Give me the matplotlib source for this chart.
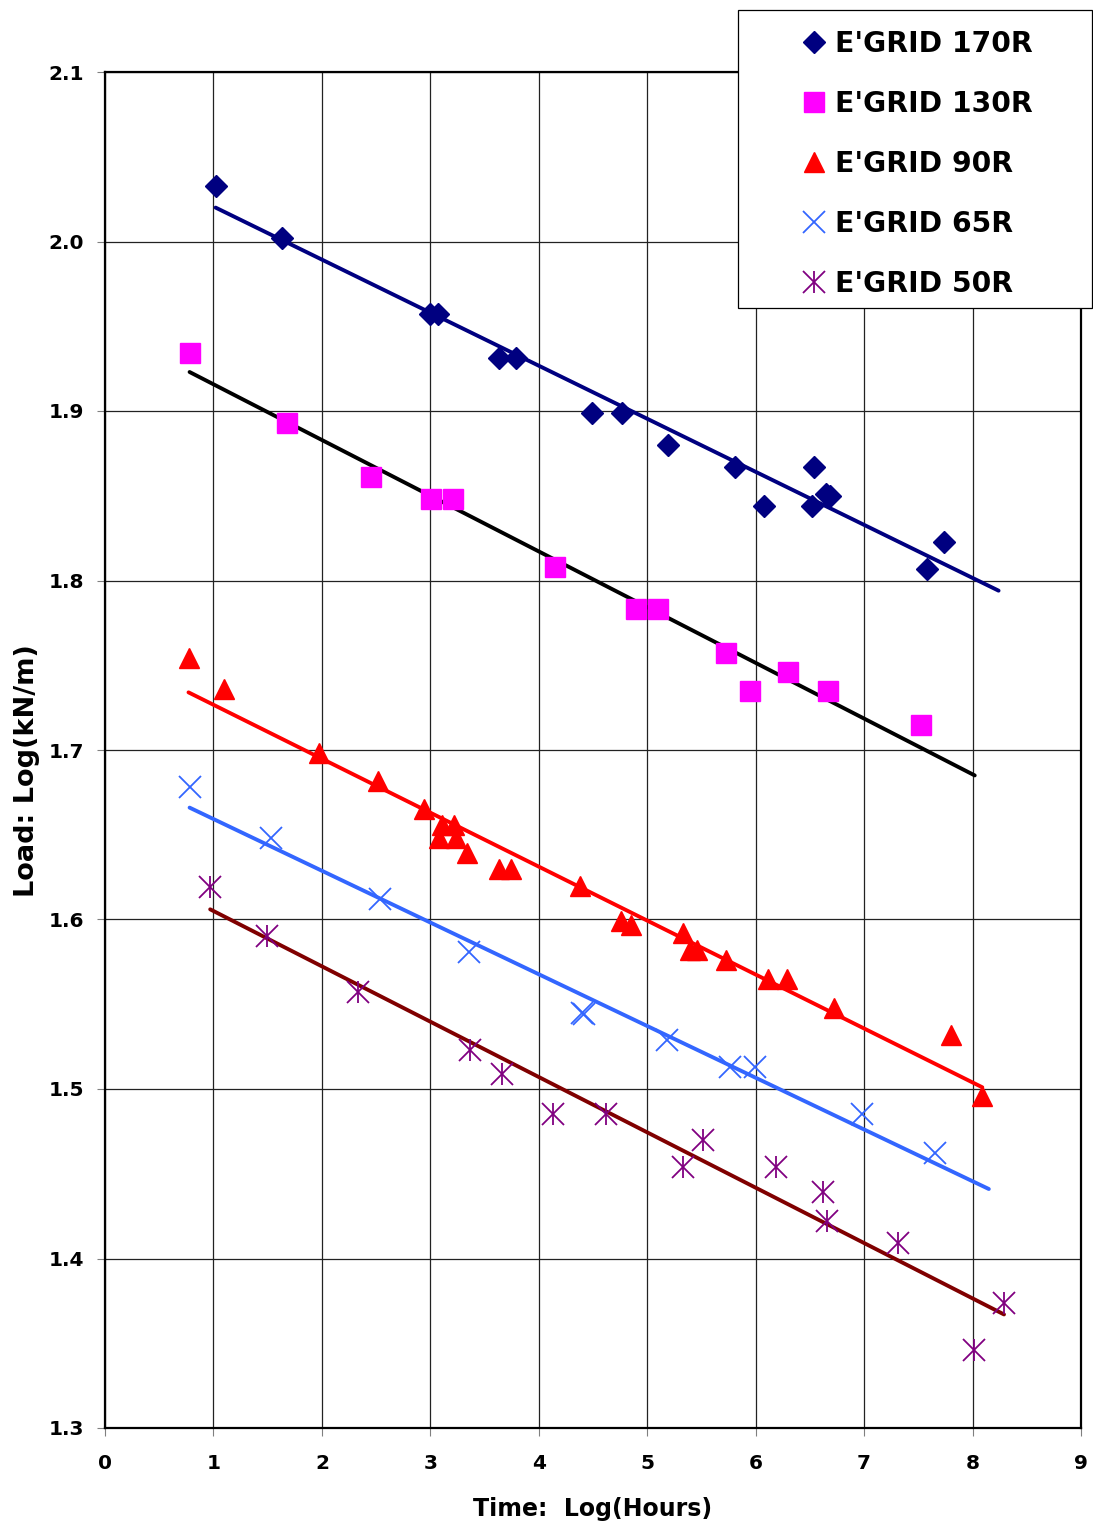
import numpy as np
import matplotlib.pyplot as plt
from matplotlib.patches import Rectangle
from matplotlib.lines import Line2D

plt.rcParams['font.family'] = ['DejaVu Sans']
plt.rcParams['font.weight'] = 'bold'

# Datos (log(horas), log(kN/m))
x170 = [1.02, 1.63, 3.00, 3.07, 3.63, 3.79, 4.49, 4.77, 5.19, 5.81, 6.08,
        6.54, 6.52, 6.65, 6.69, 7.58, 7.74]
y170 = [2.033, 2.002, 1.957, 1.957, 1.931, 1.931, 1.899, 1.899, 1.880, 1.867,
        1.844, 1.867, 1.844, 1.851, 1.850, 1.807, 1.823]

x130 = [0.78, 1.68, 2.45, 3.01, 3.21, 4.15, 4.90, 5.10, 5.73, 5.95, 6.30,
        6.67, 7.52]
y130 = [1.934, 1.893, 1.861, 1.848, 1.848, 1.808, 1.783, 1.783, 1.757, 1.735,
        1.746, 1.735, 1.715]

x90 = [0.77, 1.10, 1.97, 2.52, 2.94, 3.11, 3.22, 3.08, 3.24, 3.34, 3.63,
       3.74, 4.38, 4.76, 4.85, 5.33, 5.39, 5.46, 5.73, 6.11, 6.29, 6.72,
       7.80, 8.09]
y90 = [1.754, 1.736, 1.698, 1.682, 1.665, 1.656, 1.656, 1.648, 1.648, 1.639,
       1.630, 1.630, 1.620, 1.599, 1.597, 1.592, 1.582, 1.582, 1.576, 1.565,
       1.565, 1.548, 1.532, 1.496]

x65 = [0.78, 1.53, 2.54, 3.36, 4.40, 4.42, 5.18, 5.76, 5.99, 6.98, 7.65]
y65 = [1.678, 1.648, 1.612, 1.581, 1.545, 1.544, 1.529, 1.513, 1.513, 1.485,
       1.462]

x50 = [0.97, 1.49, 2.33, 3.37, 3.66, 4.13, 4.62, 5.33, 5.51, 6.19, 6.62,
       6.66, 7.31, 8.01, 8.29]
y50 = [1.619, 1.590, 1.557, 1.523, 1.509, 1.485, 1.485, 1.454, 1.470, 1.454,
       1.439, 1.422, 1.409, 1.346, 1.374]

# Líneas de tendencia (extremos)
lx170, ly170 = [1.02, 8.24], [2.020, 1.794]
lx130, ly130 = [0.78, 8.02], [1.923, 1.685]
lx90, ly90 = [0.77, 8.09], [1.734, 1.501]
lx65, ly65 = [0.78, 8.15], [1.666, 1.441]
lx50, ly50 = [0.97, 8.29], [1.606, 1.367]

etiquetas = ["E'GRID 170R", "E'GRID 130R", "E'GRID 90R", "E'GRID 65R", "E'GRID 50R"]

W, H = 1093, 1526
fig = plt.figure(figsize=(W / 100, H / 100), dpi=100)
ax = fig.add_axes([105 / W, 1 - 1428 / H, 976 / W, 1356 / H])

# Líneas de tendencia
ax.plot(lx170, ly170, color='#000080', lw=2.8, solid_capstyle='round', zorder=3)
ax.plot(lx130, ly130, color='black', lw=2.8, solid_capstyle='round', zorder=3)
ax.plot(lx90, ly90, color='#FF0000', lw=2.8, solid_capstyle='round', zorder=3)
ax.plot(lx65, ly65, color='#3366FF', lw=2.8, solid_capstyle='round', zorder=3)
ax.plot(lx50, ly50, color='#800000', lw=2.8, solid_capstyle='round', zorder=3)

# Puntos
ax.plot(x170, y170, 'D', color='#000080', ms=11, mec='#000080', ls='none', zorder=4)
ax.plot(x130, y130, 's', color='#FF00FF', ms=14, mec='#FF00FF', ls='none', zorder=4)
ax.plot(x90, y90, '^', color='#FF0000', ms=14, mec='#FF0000', ls='none', zorder=4)
ax.plot(x65, y65, 'x', color='#3366FF', ms=16, mew=1.3, ls='none', zorder=4)
ax.plot(x50, y50, 'x', color='#800080', ms=16, mew=1.3, ls='none', zorder=4)
ax.plot(x50, y50, '|', color='#800080', ms=16, mew=1.3, ls='none', zorder=4)

ax.set_xlim(0, 9)
ax.set_ylim(1.3, 2.1)
ax.set_xticks(np.arange(0, 10, 1))
ax.set_yticks(np.round(np.arange(1.3, 2.11, 0.1), 1))
ax.set_yticklabels([f"{v:.1f}" for v in np.arange(1.3, 2.11, 0.1)])
ax.grid(True, color='#222222', lw=0.9)
ax.set_axisbelow(True)
for s in ax.spines.values():
    s.set_linewidth(1.6)
    s.set_color('black')
ax.tick_params(direction='out', length=6, width=0.8, color='#808080',
               labelsize=14.5)
ax.tick_params(axis='x', pad=13)
ax.tick_params(axis='y', pad=9)

ax.set_xlabel("Time:  Log(Hours)", fontsize=17, fontweight='bold')
ax.set_ylabel("Load: Log(kN/m)", fontsize=19.5, fontweight='bold')
ax.xaxis.set_label_coords(0.5, -0.051)
ax.yaxis.set_label_coords(-0.067, 0.485)

# Leyenda con su caja
fig.add_artist(Rectangle((738 / W, 1 - 308 / H), 354 / W, 298 / H,
                         transform=fig.transFigure, facecolor='white',
                         edgecolor='black', lw=0.9, zorder=3))
h170 = Line2D([], [], marker='D', color='#000080', ms=11, ls='none')
h130 = Line2D([], [], marker='s', color='#FF00FF', ms=14, ls='none')
h90 = Line2D([], [], marker='^', color='#FF0000', ms=14, ls='none')
h65 = Line2D([], [], marker='x', color='#3366FF', ms=16, mew=1.3, ls='none')
h50a = Line2D([], [], marker='x', color='#800080', ms=16, mew=1.3, ls='none')
h50b = Line2D([], [], marker='|', color='#800080', ms=16, mew=1.3, ls='none')
leg = fig.legend([h170, h130, h90, h65, (h50a, h50b)], etiquetas,
                 loc='upper left', bbox_to_anchor=(786 / W, 1 - 16 / H),
                 frameon=False, borderpad=0, handlelength=1.0,
                 handletextpad=0.25, labelspacing=1.13,
                 prop={'size': 20.3, 'weight': 'bold'})
leg.set_zorder(4)

fig.savefig('out.png', dpi=100)
